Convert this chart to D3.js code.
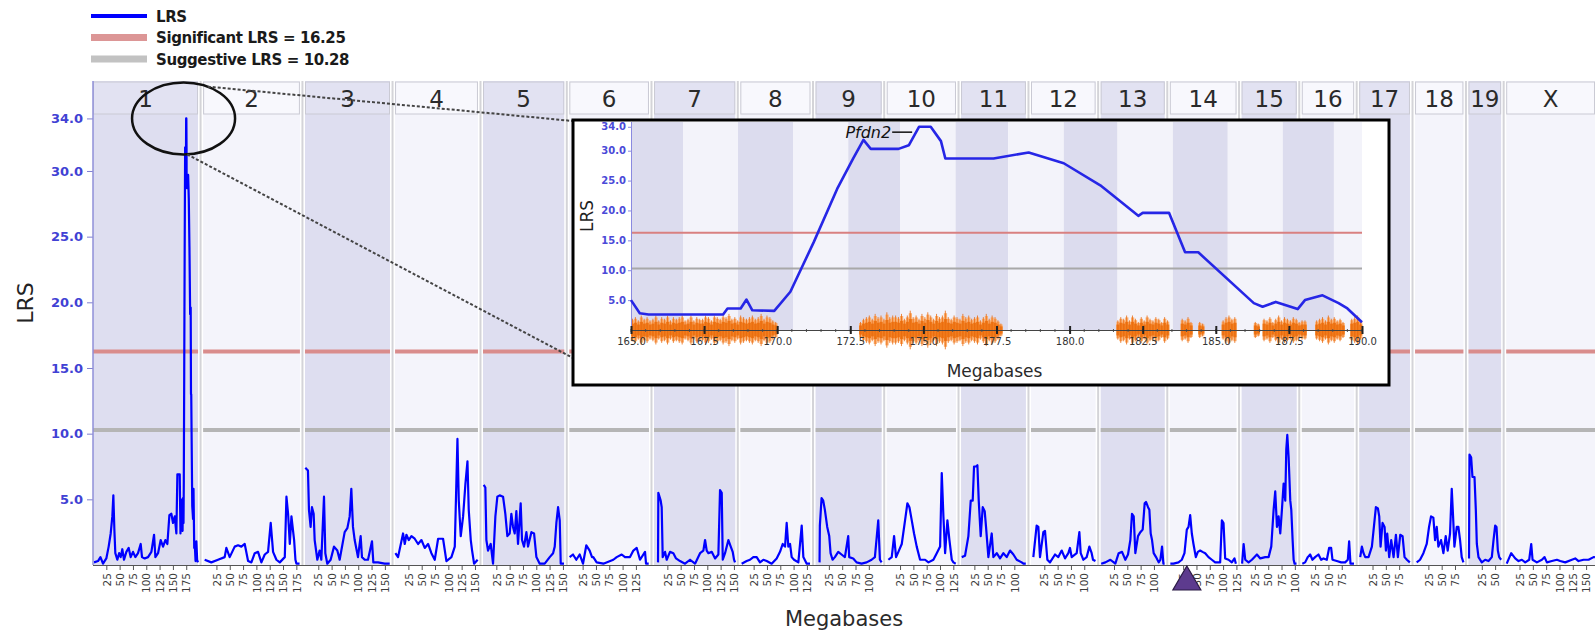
<!DOCTYPE html>
<html>
<head>
<meta charset="utf-8">
<script src="https://cdn.jsdelivr.net/npm/d3@7"></script>
<style>
  body { margin: 0; background: #fff; }
  svg { display: block; }
  text { font-family: "DejaVu Sans", Verdana, sans-serif; }
</style>
</head>
<body>
<svg id="chart" width="1595" height="636"></svg>
<script>
// chromosome names and lengths (Mb, mm9)
const chromosomes = ["1","2","3","4","5","6","7","8","9","10","11","12","13","14","15","16","17","18","19","X"];
const chromosomeLengths = [197.2,181.7,159.6,155.6,152.5,149.5,152.5,131.7,124.1,130.0,121.8,121.3,120.3,125.2,103.5,98.3,95.3,90.8,61.3,166.7];
const lrsTicks = [5, 10, 15, 20, 25, 30, 34];
const significantLrs = 16.25;
const suggestiveLrs = 10.28;

// LRS traces, [Mb, LRS] per chromosome
const chr1Lrs = [[1.9,0.2],[9.4,0.3],[14,0.6],[18.8,0.1],[25.0,0.5],[29.4,1.4],[33.2,2.4],[36.3,3.7],[38.2,5.3],[40.1,2.7],[41.9,0.9],[45.7,0.4],[49,0.9],[52.0,0.6],[55,1.2],[58.2,0.4],[62.6,1.0],[67.0,1.3],[70.7,0.6],[75.1,1.0],[79.5,0.6],[84.5,0.9],[89.5,1.6],[92.0,0.6],[97.0,0.5],[103.3,0.6],[109.6,1.0],[114.6,2.3],[117.1,0.6],[122.1,0.9],[127.1,1.9],[131.5,1.4],[135.8,1.9],[139.6,1.6],[143.4,3.8],[147.1,3.9],[150.2,3.2],[153.4,3.7],[156.5,2.4],[158.4,6.9],[162.8,6.9],[164.2,2.4],
  [165.0,5.0],[165.3,2.8],[168.15,2.6],[168.3,3.6],[168.75,3.6],[168.95,5.1],[169.15,3.3],[169.9,3.2],[170.45,6.4],[171.25,14.7],[172.05,23.6],[172.6,28.7],[172.95,31.8],[173.2,30.3],[174.15,30.3],[174.5,30.9],[174.85,34.0],[175.25,34.0],[175.6,31.6],[175.75,28.7],[177.4,28.7],[178.6,29.7],[179.8,27.9],[181.05,24.2],[182.35,19.1],[183.4,19.6],[183.95,13.0],[184.4,13.0],[186.3,4.5],[187.8,3.5],[188.65,5.8],[190.0,1.3],
  [191.0,1.6],[192.5,0.3],[194.0,1.8],[195.5,0.4],[197.0,0.2]];
const chr2Lrs = [[2.9,0.4],[15.4,0.2],[28.0,0.4],[40.5,0.6],[43.6,1.3],[49.9,0.6],[59.3,1.4],[65.6,1.5],[71.8,1.4],[78.1,1.6],[84.4,0.3],[90.6,0.2],[96.9,0.9],[103.1,1.0],[109.4,0.2],[115.7,0.8],[121.9,1.0],[126.9,3.2],[131.3,1.0],[137.6,0.4],[143.9,0.2],[153.3,0.6],[156.4,5.2],[159.5,3.9],[162.7,1.6],[165.8,3.7],[170.8,1.9],[173.3,0.4],[175.2,0.1],[181.0,0.1]];
const chr3Lrs = [[0.6,7.4],[5.6,7.2],[7.5,4.2],[10.6,2.9],[13.1,4.4],[16.3,3.9],[18.2,1.9],[23.2,0.4],[27.5,1.1],[30.7,0.4],[35.7,5.2],[38.2,0.9],[41.9,0.1],[48.2,0.4],[54.5,1.4],[60.7,1.1],[65.1,0.4],[74.5,2.5],[79.5,2.8],[83.9,3.7],[87.0,5.8],[90.1,2.9],[93.3,1.9],[99.5,0.6],[104.5,2.2],[107.0,0.6],[112.1,0.4],[118.3,0.4],[125.8,1.8],[128.3,0.2],[137.1,0.2],[149.6,0.1],[159.0,0.1]];
const chr4Lrs = [[0.6,0.9],[5.6,0.6],[15.0,2.4],[18.2,1.6],[21.3,2.3],[25.7,1.9],[30.7,2.2],[36.9,2.0],[43.2,1.6],[49.5,1.9],[55.7,1.3],[62.0,1.6],[68.2,0.9],[74.5,0.4],[80.8,2.0],[90.1,2.0],[96.4,0.3],[105.8,0.6],[112.1,1.4],[117.1,9.6],[119.6,4.9],[123.3,2.2],[127.7,3.7],[132.1,6.2],[135.9,7.9],[138.3,4.2],[142.1,1.9],[144.6,1.1],[148.3,0.1],[155.0,0.4]];
const chr5Lrs = [[1.3,6.1],[4.4,5.9],[6.3,1.9],[9.4,1.1],[14.4,1.6],[18.8,0.1],[23.2,3.7],[26.9,5.2],[31.3,5.3],[37.6,5.2],[41.9,3.9],[45.7,2.2],[50.1,2.4],[53.2,3.9],[56.3,2.9],[59.5,2.4],[62.6,4.1],[65.7,1.6],[70.7,4.7],[73.2,1.9],[77.0,1.4],[81.4,2.5],[84.5,1.4],[90.8,2.5],[95.8,2.4],[100.2,0.6],[106.4,0.1],[115.8,0.1],[125.2,0.6],[131.5,0.9],[134.6,1.4],[137.7,3.2],[140.9,4.4],[144.0,3.4],[145.9,0.1],[152.0,0.1]];
const chr6Lrs = [[0.6,0.6],[6.9,0.8],[13.1,0.4],[19.4,0.8],[25.7,0.1],[31.9,1.5],[38.2,1.1],[42.6,0.6],[45.0,0.6],[51.3,0.2],[63.9,0.1],[82.6,0.4],[88.9,0.6],[98.3,0.8],[104.5,0.6],[113.9,0.6],[120.2,1.1],[126.5,1.3],[132.7,0.4],[142.1,1.0],[144.0,0.1],[149.0,0.1]];
const chr7Lrs = [[7.5,0.2],[8.1,5.5],[12.5,4.9],[14.4,4.4],[16.3,0.6],[20.7,1.0],[23.8,0.4],[30.0,1.0],[36.3,0.9],[41.3,0.5],[48.8,0.3],[58.2,0.1],[67.6,0.4],[77.0,0.1],[86.4,0.9],[92.6,1.1],[95.8,1.9],[98.9,1.1],[102.0,0.9],[108.3,1.0],[114.6,0.5],[120.8,0.8],[123.9,5.7],[127.1,5.5],[129.0,0.4],[133.3,0.9],[139.6,1.9],[144.0,1.4],[147.7,1.0],[150.2,0.4],[152.0,0.2]];
const chr8Lrs = [[2.5,0.1],[11.9,0.3],[18.2,0.4],[24.4,0.6],[30.7,0.6],[36.9,0.2],[43.2,0.4],[49.5,0.3],[58.8,0.1],[68.2,0.5],[74.5,1.0],[79.5,1.6],[83.9,1.4],[87.0,3.2],[90.1,1.4],[93.3,1.6],[96.4,0.6],[100.8,0.4],[108.9,0.2],[115.2,3.0],[118.3,0.6],[124.6,0.1],[130.8,0.1]];
const chr9Lrs = [[7.5,0.2],[8.1,3.0],[11.3,5.1],[14.4,4.9],[17.5,4.2],[21.9,2.9],[25.7,2.2],[28.2,0.9],[31.9,0.4],[36.3,0.6],[42.6,1.0],[48.8,0.8],[55.1,0.6],[61.3,2.2],[63.2,0.6],[70.7,0.5],[77.0,0.2],[86.4,0.1],[95.8,0.2],[105.2,0.4],[111.4,0.6],[117.7,3.4],[120.8,0.4],[124.0,0.2]];
const chr10Lrs = [[3.1,0.4],[9.4,0.6],[13.8,2.2],[17.5,0.6],[21.9,1.0],[28.2,1.6],[34.4,3.4],[38.8,4.7],[42.6,4.4],[47.0,3.4],[51.3,2.4],[56.3,1.4],[62.6,0.4],[72.0,0.4],[78.3,0.2],[87.6,0.4],[93.9,0.9],[100.2,1.4],[103.3,7.0],[106.4,3.7],[109.6,0.9],[113.9,3.4],[117.7,1.9],[122.1,0.4],[125.2,0.2],[129.5,0.1]];
const chr11Lrs = [[1.3,0.6],[7.5,0.7],[13.8,2.2],[18.2,4.9],[21.9,4.9],[24.4,7.5],[28.2,7.5],[30.7,7.6],[33.2,4.9],[36.9,2.2],[40.7,4.4],[44.4,4.1],[46.9,2.9],[51.3,0.6],[57.6,2.4],[60.7,0.6],[67.0,0.9],[73.2,0.5],[79.5,0.9],[85.8,0.6],[92.0,1.1],[98.3,0.8],[104.5,0.4],[113.9,0.2],[117.1,0.1],[121.5,0.1]];
const chr12Lrs = [[4.4,0.6],[10.6,3.0],[13.8,2.9],[16.9,0.6],[23.2,2.5],[26.3,2.6],[30.7,0.4],[35.7,0.2],[45.1,0.8],[51.3,0.6],[57.6,1.1],[63.9,0.5],[70.1,0.9],[73.2,1.3],[76.4,0.6],[85.8,0.9],[90.8,2.5],[93.3,0.9],[98.3,0.4],[104.5,0.6],[109.6,1.4],[113.9,0.9],[116.4,0.4],[121.0,0.3]];
const chr13Lrs = [[1.0,0.1],[8.8,0.2],[18.2,0.4],[27.5,0.1],[33.8,0.9],[40.1,1.0],[46.3,0.4],[51.3,0.8],[55.7,1.9],[58.8,3.9],[62.0,3.7],[65.1,0.9],[70.1,2.2],[74.5,2.5],[78.9,2.7],[82.6,4.7],[85.1,4.8],[88.9,4.4],[91.4,4.2],[93.9,2.4],[96.4,1.9],[99.5,0.9],[103.9,0.6],[108.9,0.2],[112.1,0.4],[115.2,1.4],[117.7,0.1],[120.0,0.1]];
const chr14Lrs = [[1.0,0.1],[6.9,0.1],[16.3,0.2],[22.5,0.4],[27.5,0.9],[31.9,2.7],[35.1,2.9],[38.2,3.8],[41.3,2.4],[44.4,1.6],[48.8,0.6],[52.6,1.0],[57.0,1.1],[61.3,1.0],[66.4,0.9],[72.6,0.6],[78.9,0.4],[85.1,0.2],[94.5,0.2],[97.7,3.4],[100.8,3.2],[103.9,0.5],[110.2,0.4],[116.4,0.2],[121.4,0.5],[124.0,0.1]];
const chr15Lrs = [[1.0,0.1],[3.8,1.6],[6.9,0.4],[13.1,0.2],[19.4,0.4],[28.8,0.8],[35.1,0.5],[44.4,0.6],[50.7,0.6],[55.7,1.4],[60.1,4.2],[63.2,5.6],[66.4,2.9],[69.5,3.7],[72.6,2.4],[75.7,4.2],[78.9,6.2],[82.0,4.9],[83.9,8.8],[85.8,9.9],[88.3,8.2],[91.4,4.9],[93.3,4.2],[95.8,1.9],[97.7,0.4],[99.5,0.1],[103.0,0.1]];
const chr16Lrs = [[1.0,0.1],[6.3,0.2],[11.3,0.6],[15.7,0.8],[20.0,0.4],[25.0,0.6],[31.3,0.8],[36.3,0.4],[40.7,0.5],[47.0,0.4],[51.3,1.3],[55.1,1.3],[57.6,0.4],[65.7,0.3],[73.9,0.2],[81.4,0.2],[86.4,0.4],[88.9,1.8],[91.4,0.1],[98.0,0.1]];
const chr17Lrs = [[1.9,0.6],[5.0,1.4],[8.1,0.9],[11.3,0.6],[17.5,0.6],[23.8,1.4],[28.8,3.4],[31.3,4.4],[35.1,4.3],[37.6,3.7],[40.1,1.4],[43.8,3.2],[47.6,2.9],[50.1,1.1],[52.6,2.4],[56.3,0.6],[60.1,1.9],[64.5,0.6],[68.9,2.3],[72.6,0.6],[77.0,2.3],[81.4,2.2],[85.1,0.6],[89.5,0.4],[95.0,0.2]];
const chr18Lrs = [[3.1,0.2],[9.4,0.4],[15.7,0.9],[21.9,1.6],[26.3,2.9],[30.0,3.7],[34.4,3.6],[37.6,1.9],[40.7,2.9],[43.8,1.4],[48.8,1.9],[53.2,0.9],[57.6,2.2],[61.3,1.1],[65.7,2.4],[68.9,5.8],[71.4,3.7],[73.9,1.4],[78.3,2.9],[81.4,2.9],[84.5,1.9],[87.6,0.6],[90.8,0.2]];
const chr19Lrs = [[1.0,0.5],[1.9,8.4],[5.0,8.2],[7.5,6.7],[11.3,6.7],[13.8,4.2],[15.7,1.6],[18.8,0.6],[25.0,0.2],[31.3,0.4],[37.6,0.3],[43.8,0.6],[47.0,1.9],[50.1,3.0],[52.6,2.9],[55.1,1.1],[57.6,0.6],[61.3,0.4]];
const chrXLrs = [[1.0,0.1],[9.4,0.9],[16.9,0.5],[23.2,0.3],[29.4,0.4],[35.7,0.2],[43.2,0.4],[47.0,1.6],[49.5,0.4],[57.6,0.2],[67.0,0.4],[72.0,0.6],[76.4,0.2],[85.8,0.3],[95.2,0.4],[101.4,0.3],[110.8,0.2],[123.3,0.4],[129.6,0.5],[135.8,0.3],[145.2,0.4],[154.6,0.4],[164.0,0.6],[166.5,0.6]];
const lrsSeries = [chr1Lrs,chr2Lrs,chr3Lrs,chr4Lrs,chr5Lrs,chr6Lrs,chr7Lrs,chr8Lrs,chr9Lrs,chr10Lrs,chr11Lrs,chr12Lrs,chr13Lrs,chr14Lrs,chr15Lrs,chr16Lrs,chr17Lrs,chr18Lrs,chr19Lrs,chrXLrs];

// zoomed view of chr1 165-190 Mb
const insetLrs = [[165.0,5.0],[165.3,2.8],[165.6,2.6],[168.15,2.6],[168.3,3.6],[168.75,3.6],[168.95,5.1],[169.15,3.3],[169.9,3.2],[170.45,6.4],[171.25,14.7],[172.05,23.6],[172.6,28.7],[172.95,31.8],[173.2,30.3],[174.15,30.3],[174.5,30.9],[174.85,34.0],[175.25,34.0],[175.6,31.6],[175.75,28.7],[177.4,28.7],[178.6,29.7],[179.8,27.9],[181.05,24.2],[182.35,19.1],[182.5,19.6],[183.4,19.6],[183.95,13.0],[184.4,13.0],[186.3,4.5],[186.6,3.9],[187.05,4.7],[187.8,3.5],[188.05,5.0],[188.65,5.8],[189.2,4.5],[189.5,3.6],[190.0,1.3]];
const insetTicks = [165.0,167.5,170.0,172.5,175.0,177.5,180.0,182.5,185.0,187.5,190.0];
const insetBandEdges = [165,166.78,168.66,170.55,172.43,174.21,176.1,177.9,179.8,181.64,183.53,185.41,187.29,189.04,190];
// SNP density per 0.1 Mb bin starting at 165.0
const snpDensity = [
  7,8,6,9,7,8,6,7,9,6,  8,7,9,6,8,7,8,9,6,7,  9,6,8,7,7,9,8,6,9,8,  7,9,8,10,7,8,6,9,8,7,  8,9,7,8,10,7,9,8,6,5,
  0,0,0,0,0,0,0,0,0,0,  0,0,0,0,0,0,0,0,0,0,  0,0,0,0,0,0,0,0,5,7,  8,9,7,10,8,9,7,11,8,9,  9,8,10,7,9,12,8,9,7,10,
  8,11,9,7,10,8,9,12,8,7,  9,8,7,10,8,9,7,8,9,6,  8,10,7,9,8,6,4,0,0,0,  0,0,0,0,0,0,0,0,0,0,  0,0,0,0,0,0,0,0,0,0,
  0,0,0,0,0,0,0,0,0,0,  0,0,0,0,0,0,6,8,7,9,  6,9,7,5,8,6,9,7,6,8,  7,5,8,6,0,0,0,0,7,6,  8,5,0,0,5,4,0,0,0,0,
  0,0,6,8,9,7,8,0,0,0,  0,0,0,5,4,0,7,6,8,5,  7,9,6,8,7,6,8,7,5,6,  6,0,0,0,6,7,8,6,9,7,  8,6,7,5,0,0,7,8,9,6];
const snpBinStart = 165.0, snpBinSize = 0.1;
const geneLabel = "Pfdn2", geneMb = 174.65, geneLrs = 33.1;
const focusChr = 0, focusMb = 170, focusLrs = 34;
const markerChr = 13, markerMb = 32;

const svg = d3.select("#chart");
const plotLeft = 93, plotRight = 1595, plotTop = 81, plotBottom = 565;
const gapMb = 9.5;

const offsets = [];
let total = 0;
chromosomeLengths.forEach((len, i) => {
  offsets.push(total);
  total += len + (i < chromosomeLengths.length - 1 ? gapMb : 0);
});

const x = d3.scaleLinear().domain([0, total]).range([plotLeft, plotRight]);
const y = d3.scaleLinear().domain([0, 36.85]).range([plotBottom, plotTop]);

const chrX0 = i => x(offsets[i]);
const chrX1 = i => x(offsets[i] + chromosomeLengths[i]);

// chromosome bands
svg.append("g").selectAll("rect").data(chromosomes).join("rect")
  .attr("x", (d, i) => chrX0(i))
  .attr("width", (d, i) => chrX1(i) - chrX0(i))
  .attr("y", plotTop)
  .attr("height", plotBottom - plotTop)
  .attr("fill", (d, i) => i % 2 === 0 ? "#dedef0" : "#f4f4fb");

svg.append("g").selectAll("line").data(chromosomes.slice(0, -1)).join("line")
  .attr("x1", (d, i) => x(offsets[i] + chromosomeLengths[i] + gapMb / 2))
  .attr("x2", (d, i) => x(offsets[i] + chromosomeLengths[i] + gapMb / 2))
  .attr("y1", plotTop).attr("y2", plotBottom)
  .attr("stroke", "#d4d4d8").attr("stroke-width", 2);

// chromosome header boxes
const header = svg.append("g");
header.selectAll("rect").data(chromosomes).join("rect")
  .attr("x", (d, i) => chrX0(i) + 0.5)
  .attr("width", (d, i) => chrX1(i) - chrX0(i) - 1)
  .attr("y", 82).attr("height", 32)
  .attr("fill", (d, i) => i % 2 === 0 ? "#e2e2f2" : "#f8f8fd")
  .attr("stroke", "#cacad4");
header.selectAll("text").data(chromosomes).join("text")
  .attr("x", (d, i) => (chrX0(i) + chrX1(i)) / 2)
  .attr("y", 107)
  .attr("text-anchor", "middle")
  .attr("font-size", 23)
  .attr("fill", "#2a2a2a")
  .text(d => d);

// threshold lines per chromosome
[[significantLrs, "#d98c8c"], [suggestiveLrs, "#b5b5b5"]].forEach(([v, c]) => {
  svg.append("g").selectAll("line").data(chromosomes).join("line")
    .attr("x1", (d, i) => chrX0(i)).attr("x2", (d, i) => chrX1(i))
    .attr("y1", y(v)).attr("y2", y(v))
    .attr("stroke", c).attr("stroke-width", 4);
});

// LRS traces
svg.append("g").selectAll("path").data(lrsSeries).join("path")
  .attr("fill", "none")
  .attr("stroke", "#0000ff")
  .attr("stroke-width", 2.2)
  .attr("stroke-linejoin", "round")
  .attr("d", (pts, i) => d3.line().x(d => x(offsets[i] + d[0])).y(d => y(d[1]))(pts));

// y axis
const yAxis = svg.append("g")
  .attr("transform", `translate(${plotLeft},0)`)
  .call(d3.axisLeft(y).tickValues(lrsTicks).tickFormat(d3.format(".1f")).tickSize(6));
yAxis.select(".domain").remove();
yAxis.selectAll(".tick line").attr("stroke", "#7f7fd0");
yAxis.selectAll(".tick text").attr("fill", "#4141d4").attr("font-size", 13)
  .attr("font-weight", "bold").attr("font-family", "DejaVu Sans").attr("x", -10);
svg.append("line").attr("x1", plotLeft).attr("x2", plotLeft)
  .attr("y1", plotTop).attr("y2", plotBottom)
  .attr("stroke", "#8f8fd8").attr("stroke-width", 1.5);

svg.append("text")
  .attr("transform", "translate(33,303) rotate(-90)")
  .attr("text-anchor", "middle")
  .attr("font-size", 22)
  .attr("fill", "#222")
  .text("LRS");

// x axis with per-chromosome Mb ticks
const xTicks = [];
chromosomeLengths.forEach((len, i) => {
  for (let m = 25; m < len; m += 25) xTicks.push({ pos: offsets[i] + m, label: String(m) });
});
const xAxis = svg.append("g")
  .attr("transform", `translate(0,${plotBottom})`)
  .call(d3.axisBottom(x).tickValues(xTicks.map(t => t.pos))
    .tickFormat((d, i) => xTicks[i].label).tickSize(5));
xAxis.select(".domain").attr("stroke", "#555").attr("d", `M${plotLeft},0.5H${plotRight}`);
xAxis.selectAll(".tick line").attr("stroke", "#555");
xAxis.selectAll(".tick text")
  .attr("transform", "rotate(-90)")
  .attr("x", -8).attr("y", 0).attr("dy", "0.35em")
  .attr("text-anchor", "end")
  .attr("font-size", 10.5)
  .attr("font-family", "DejaVu Sans")
  .attr("fill", "#3c3c3c");

svg.append("text")
  .attr("x", 844).attr("y", 626)
  .attr("text-anchor", "middle")
  .attr("font-size", 21)
  .attr("fill", "#2a2a2a")
  .text("Megabases");

// marker triangle on chr14
const mx = x(offsets[markerChr] + markerMb);
svg.append("path")
  .attr("d", `M${mx},${plotBottom + 1}L${mx + 14},${plotBottom + 25}L${mx - 14},${plotBottom + 25}Z`)
  .attr("fill", "#5d3b8e").attr("stroke", "#2b1a45").attr("stroke-width", 1.2);

// focus ellipse and connector lines
const ex = x(offsets[focusChr] + focusMb), ey = y(focusLrs), erx = 51.5, ery = 36;
svg.append("ellipse").attr("cx", ex).attr("cy", ey).attr("rx", erx).attr("ry", ery)
  .attr("fill", "none").attr("stroke", "#111").attr("stroke-width", 2.5);

const insetBox = { left: 573, top: 120, right: 1389, bottom: 385 };
const onEllipse = deg => [ex + erx * Math.cos(deg * Math.PI / 180), ey + ery * Math.sin(deg * Math.PI / 180)];
const c1 = onEllipse(-62), c2 = onEllipse(86);
svg.append("line").attr("x1", c1[0]).attr("y1", c1[1]).attr("x2", insetBox.left).attr("y2", insetBox.top + 1)
  .attr("stroke", "#444").attr("stroke-width", 2).attr("stroke-dasharray", "3,2");
svg.append("line").attr("x1", c2[0]).attr("y1", c2[1]).attr("x2", insetBox.left).attr("y2", 358)
  .attr("stroke", "#444").attr("stroke-width", 2).attr("stroke-dasharray", "3,2");

// ---- inset ----
const inset = svg.append("g");
inset.append("rect")
  .attr("x", insetBox.left).attr("y", insetBox.top)
  .attr("width", insetBox.right - insetBox.left).attr("height", insetBox.bottom - insetBox.top)
  .attr("fill", "#fff").attr("stroke", "#000").attr("stroke-width", 3);

const xi = d3.scaleLinear().domain([165, 190]).range([631, 1362]);
const yi = d3.scaleLinear().domain([0, 34.8]).range([330, 122]);

inset.append("g").selectAll("rect").data(d3.pairs(insetBandEdges)).join("rect")
  .attr("x", d => xi(d[0])).attr("width", d => xi(d[1]) - xi(d[0]))
  .attr("y", yi(34.8)).attr("height", yi(0) - yi(34.8))
  .attr("fill", (d, i) => i % 2 === 0 ? "#dcdcee" : "#f3f3fa");

[[significantLrs, "#d98080"], [suggestiveLrs, "#a8a8a8"]].forEach(([v, c]) => {
  inset.append("line").attr("x1", xi(165)).attr("x2", xi(190))
    .attr("y1", yi(v)).attr("y2", yi(v))
    .attr("stroke", c).attr("stroke-width", 2);
});

// SNP density
const amp = d3.scaleLinear().domain([0, 10]).range([0, 14]);
const snpBins = snpDensity.map((v, i) => ({ mb: snpBinStart + i * snpBinSize, v })).filter(d => d.v > 0);
const binW = xi(snpBinStart + snpBinSize) - xi(snpBinStart);
inset.append("g").selectAll("rect").data(snpBins).join("rect")
  .attr("x", d => xi(d.mb)).attr("width", binW + 0.3)
  .attr("y", d => yi(0) - amp(d.v)).attr("height", d => 2 * amp(d.v))
  .attr("fill", "#fcb070");
inset.append("g").selectAll("rect").data(snpBins).join("rect")
  .attr("x", d => xi(d.mb)).attr("width", binW + 0.3)
  .attr("y", d => yi(0) - amp(d.v) * 0.65).attr("height", d => 1.3 * amp(d.v))
  .attr("fill", "#f07a1a");
inset.append("g").selectAll("line").data(snpBins).join("line")
  .attr("x1", d => xi(d.mb) + binW / 2).attr("x2", d => xi(d.mb) + binW / 2)
  .attr("y1", d => yi(0) - amp(d.v) * 1.15).attr("y2", d => yi(0) + amp(d.v) * 1.15)
  .attr("stroke", "#e8680c").attr("stroke-width", 0.8);

// inset axes
const yiAxis = inset.append("g").attr("transform", `translate(${xi(165)},0)`)
  .call(d3.axisLeft(yi).tickValues(lrsTicks).tickFormat(d3.format(".1f")).tickSize(3));
yiAxis.select(".domain").attr("stroke", "#8a8ae0").attr("d", `M0.5,${yi(34.8)}V${yi(0)}`);
yiAxis.selectAll(".tick line").attr("stroke", "#8a8ae0");
yiAxis.selectAll(".tick text").attr("fill", "#4a4ad8").attr("font-size", 10)
  .attr("font-weight", "bold").attr("font-family", "DejaVu Sans").attr("x", -5);

inset.append("g").selectAll("line").data(d3.range(165, 190.01, 0.5)).join("line")
  .attr("x1", d => xi(d)).attr("x2", d => xi(d))
  .attr("y1", yi(0) - 1).attr("y2", yi(0) + 2)
  .attr("stroke", "#555");

const xiAxis = inset.append("g").attr("transform", `translate(0,${yi(0)})`)
  .call(d3.axisBottom(xi).tickValues(insetTicks).tickFormat(d3.format(".1f")).tickSize(4));
xiAxis.select(".domain").attr("stroke", "#444").attr("d", `M${xi(165)},0.5H${xi(190)}`);
xiAxis.selectAll(".tick line").attr("stroke", "#222").attr("stroke-width", 2).attr("y1", -4);
xiAxis.selectAll(".tick text").attr("fill", "#333").attr("font-size", 10)
  .attr("font-family", "DejaVu Sans").attr("y", 8);

inset.append("path").datum(insetLrs)
  .attr("fill", "none").attr("stroke", "#2626e6").attr("stroke-width", 2.6)
  .attr("stroke-linejoin", "round")
  .attr("d", d3.line().x(d => xi(d[0])).y(d => yi(d[1])));

inset.append("line")
  .attr("x1", xi(geneMb) - 21).attr("x2", xi(geneMb) - 1)
  .attr("y1", yi(geneLrs)).attr("y2", yi(geneLrs))
  .attr("stroke", "#111").attr("stroke-width", 1.5);
inset.append("text")
  .attr("x", xi(geneMb) - 22).attr("y", yi(geneLrs) + 6)
  .attr("text-anchor", "end").attr("font-size", 16).attr("font-style", "italic")
  .attr("fill", "#111").text(geneLabel);

inset.append("text")
  .attr("transform", `translate(593,${(yi(0) + yi(34.8)) / 2 - 10}) rotate(-90)`)
  .attr("text-anchor", "middle").attr("font-size", 17).attr("fill", "#222")
  .text("LRS");
inset.append("text")
  .attr("x", (xi(165) + xi(190)) / 2 - 2).attr("y", 377)
  .attr("text-anchor", "middle").attr("font-size", 17).attr("fill", "#2a2a2a")
  .text("Megabases");

// legend
const legendItems = [
  { label: "LRS", color: "#0000ff", width: 4 },
  { label: "Significant LRS = " + significantLrs.toFixed(2), color: "#dc9696", width: 7 },
  { label: "Suggestive LRS = " + suggestiveLrs.toFixed(2), color: "#c2c2c2", width: 7 }
];
const legend = svg.append("g").attr("transform", "translate(91,16)");
legend.selectAll("line").data(legendItems).join("line")
  .attr("x1", 0).attr("x2", 56)
  .attr("y1", (d, i) => i * 21.5).attr("y2", (d, i) => i * 21.5)
  .attr("stroke", d => d.color).attr("stroke-width", d => d.width);
legend.selectAll("text").data(legendItems).join("text")
  .attr("x", 65).attr("y", (d, i) => i * 21.5 + 5.5)
  .attr("font-size", 15).attr("font-weight", "bold")
  .attr("letter-spacing", -0.4)
  .attr("fill", "#1a1a1a")
  .text(d => d.label);
</script>
</body>
</html>
